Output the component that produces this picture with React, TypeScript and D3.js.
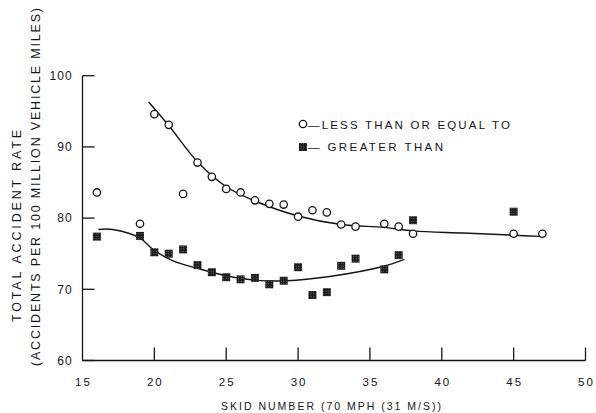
import React from "react";
import * as d3 from "d3";

const xTicks = [15, 20, 25, 30, 35, 40, 45, 50];
const yTicks = [60, 70, 80, 90, 100];

// "Less than or equal to" (open circles)
const lessX = [16, 19, 20, 21, 22, 23, 24, 25, 26, 27, 28, 29, 30, 31, 32, 33, 34, 36, 37, 38, 45, 47];
const lessY = [83.6, 79.2, 94.6, 93.1, 83.4, 87.8, 85.8, 84.1, 83.6, 82.5, 82.0, 81.9, 80.2, 81.1, 80.8, 79.1, 78.8, 79.2, 78.8, 77.8, 77.8, 77.8];

// "Greater than" (filled squares)
const greaterX = [16, 19, 20, 21, 22, 23, 24, 25, 26, 27, 28, 29, 30, 31, 32, 33, 34, 36, 37, 38, 45];
const greaterY = [77.4, 77.5, 75.2, 75.0, 75.6, 73.4, 72.4, 71.7, 71.4, 71.6, 70.7, 71.2, 73.1, 69.2, 69.6, 73.3, 74.3, 72.8, 74.8, 79.7, 80.9];

// fitted curves
const lessCurveX = [19.6, 21, 23, 25, 27, 30, 33, 36, 38, 41.5, 45, 47.1];
const lessCurveY = [96.3, 93.0, 87.9, 84.4, 82.4, 80.3, 79.1, 78.7, 78.2, 77.9, 77.6, 77.4];
const greaterCurveX = [16.1, 17.1, 19.0, 19.9, 21.3, 22.9, 25.0, 26.9, 29.2, 32.2, 35.9, 37.4];
const greaterCurveY = [78.4, 78.4, 77.2, 75.6, 74.0, 73.0, 71.9, 71.3, 71.2, 71.8, 73.2, 74.2];

const legendLabels = ["—LESS THAN OR EQUAL TO", "— GREATER THAN"];

const W = 596;
const H = 413;
const INK = "#151515";
const FONT = "'Liberation Sans', Arial, sans-serif";

export default function App() {
  const x = d3.scaleLinear().domain([15, 50]).range([82.5, 585.5]);
  const y = d3.scaleLinear().domain([60, 100]).range([360.5, 75.7]);

  const line = d3
    .line<[number, number]>()
    .x((d) => x(d[0]))
    .y((d) => y(d[1]))
    .curve(d3.curveCatmullRom.alpha(0.5));

  const lessCurve = line(lessCurveX.map((v, i) => [v, lessCurveY[i]]) as [number, number][]) || "";
  const greaterCurve = line(greaterCurveX.map((v, i) => [v, greaterCurveY[i]]) as [number, number][]) || "";

  const sq = 8;

  return (
    <svg
      width={W}
      height={H}
      viewBox={`0 0 ${W} ${H}`}
      style={{ position: "absolute", left: 0, top: 0, background: "#fff" }}
    >
      <defs>
        <pattern id="speck" width="2.5" height="2.5" patternUnits="userSpaceOnUse">
          <rect width="2.5" height="2.5" fill="#1c1c1c" />
          <rect x="0.8" y="0.8" width="0.8" height="0.8" fill="#9a9a9a" />
        </pattern>
      </defs>
      <rect width={W} height={H} fill="#fff" />

      {/* axes */}
      <line x1={x(15)} x2={x(15)} y1={y(100)} y2={y(60)} stroke={INK} strokeWidth={1.3} />
      <line x1={x(15)} x2={x(50)} y1={y(60)} y2={y(60)} stroke={INK} strokeWidth={1.3} />
      {yTicks.map((t) => (
        <g key={"yt" + t}>
          <line x1={x(15)} x2={x(15) + 12} y1={y(t)} y2={y(t)} stroke={INK} strokeWidth={1.3} />
          <text
            x={73}
            y={y(t) + 4.3}
            textAnchor="end"
            fontFamily={FONT}
            fontSize={12}
            fill={INK}
            letterSpacing={1.2}
          >
            {t}
          </text>
        </g>
      ))}
      {xTicks.map((t) => (
        <g key={"xt" + t}>
          {t > 15 && (
            <line x1={x(t)} x2={x(t)} y1={y(60)} y2={y(60) - 13} stroke={INK} strokeWidth={1.3} />
          )}
          <text
            x={x(t) + 1}
            y={386}
            textAnchor="middle"
            fontFamily={FONT}
            fontSize={11.5}
            fill={INK}
            letterSpacing={2}
          >
            {t}
          </text>
        </g>
      ))}

      {/* axis titles */}
      <text
        x={221}
        y={409.5}
        fontFamily={FONT}
        fontSize={10.5}
        fill={INK}
        textLength={220}
        lengthAdjust="spacing"
      >
        SKID NUMBER (70 MPH (31 M/S))
      </text>
      <text
        transform={`translate(20.5, 322) rotate(-90)`}
        fontFamily={FONT}
        fontSize={12.5}
        fill={INK}
        textLength={192}
        lengthAdjust="spacing"
      >
        TOTAL ACCIDENT RATE
      </text>
      <text
        transform={`translate(39.5, 366) rotate(-90)`}
        fontFamily={FONT}
        fontSize={12.5}
        fill={INK}
        textLength={358}
        lengthAdjust="spacing"
      >
        (ACCIDENTS PER 100 MILLION VEHICLE MILES)
      </text>

      {/* fitted curves */}
      <path d={lessCurve} fill="none" stroke={INK} strokeWidth={1.4} />
      <path d={greaterCurve} fill="none" stroke={INK} strokeWidth={1.4} />

      {/* points */}
      {lessX.map((v, i) => (
        <circle
          key={"c" + i}
          cx={x(v)}
          cy={y(lessY[i])}
          r={3.7}
          fill="#fff"
          stroke={INK}
          strokeWidth={1.3}
        />
      ))}
      {greaterX.map((v, i) => (
        <rect
          key={"s" + i}
          x={x(v) - sq / 2}
          y={y(greaterY[i]) - sq / 2}
          width={sq}
          height={sq}
          fill="url(#speck)"
        />
      ))}

      {/* legend */}
      <circle cx={303} cy={124} r={3.7} fill="#fff" stroke={INK} strokeWidth={1.3} />
      <text
        x={308}
        y={128.5}
        fontFamily={FONT}
        fontSize={11.5}
        fill={INK}
        textLength={202}
        lengthAdjust="spacing"
      >
        {legendLabels[0]}
      </text>
      <rect x={299} y={143} width={sq} height={sq} fill="url(#speck)" />
      <text
        x={308}
        y={151}
        fontFamily={FONT}
        fontSize={11.5}
        fill={INK}
        textLength={135}
        lengthAdjust="spacing"
      >
        {legendLabels[1]}
      </text>
    </svg>
  );
}
